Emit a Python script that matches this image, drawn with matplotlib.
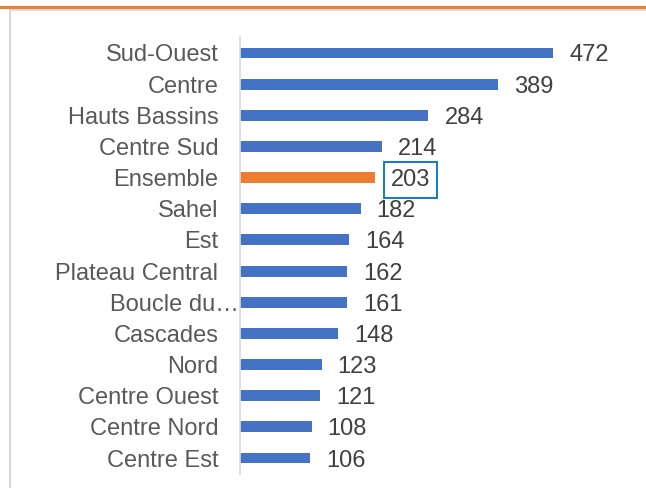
import matplotlib
matplotlib.use('Agg')
from matplotlib import pyplot as plt
from matplotlib.patches import Rectangle
from matplotlib.lines import Line2D
from matplotlib.transforms import ScaledTranslation

plt.rcParams['font.family'] = ['Liberation Sans', 'DejaVu Sans']

# donnees (du bas vers le haut)
regions = ['Centre Est', 'Centre Nord', 'Centre Ouest', 'Nord', 'Cascades',
           'Boucle du\u2026', 'Plateau Central', 'Est', 'Sahel', 'Ensemble',
           'Centre Sud', 'Hauts Bassins', 'Centre', 'Sud-Ouest']
valeurs = [106, 108, 121, 123, 148, 161, 162, 164, 182, 203, 214, 284, 389, 472]
couleurs = ['#ED7D31' if r == 'Ensemble' else '#4472C4' for r in regions]

fig = plt.figure(figsize=(6.46, 4.88), dpi=100)

# cadre du graphique + trait orange en haut
fig.add_artist(Line2D([0, 1], [1 - 6.5 / 488, 1 - 6.5 / 488], color='#ED7D31', lw=2.2,
                      transform=fig.transFigure))
fig.add_artist(Rectangle((9.5 / 646, -0.1), 1, 1.1 - 9.5 / 488, fill=False,
                         edgecolor='#D9D9D9', lw=1.5, transform=fig.transFigure))

ax = fig.add_axes([240 / 646, (488 - 473.6) / 488, 398 / 646, (473.6 - 37.4) / 488])
ypos = list(range(len(regions)))
barres = ax.barh(ypos, valeurs, height=0.35, color=couleurs)
ax.set_xlim(0, 600)
ax.set_ylim(-0.5, len(regions) - 0.5)

for sp in ['top', 'right', 'bottom']:
    ax.spines[sp].set_visible(False)
ax.spines['left'].set_color('#D9D9D9')
ax.spines['left'].set_linewidth(1.2)
ax.set_xticks([])
ax.set_yticks(ypos)
ax.set_yticklabels(regions, fontsize=17, color='#595959')
ax.tick_params(axis='y', length=0, pad=15.5)

# "Boucle du..." est colle a l'axe
for lab in ax.get_yticklabels():
    if lab.get_text().startswith('Boucle'):
        lab.set_transform(lab.get_transform() + ScaledTranslation(0.2, 0, fig.dpi_scale_trans))

for y, v, r in zip(ypos, valeurs, regions):
    box = None
    if r == 'Ensemble':
        box = dict(boxstyle='square,pad=0.28', fc='white', ec='#0070C0', lw=1.3)
    ax.annotate(str(v), (v, y), xytext=(16, -2.5), textcoords='offset pixels',
                ha='left', va='center', fontsize=17, color='#404040', bbox=box)

fig.savefig('out.png', dpi=100)
